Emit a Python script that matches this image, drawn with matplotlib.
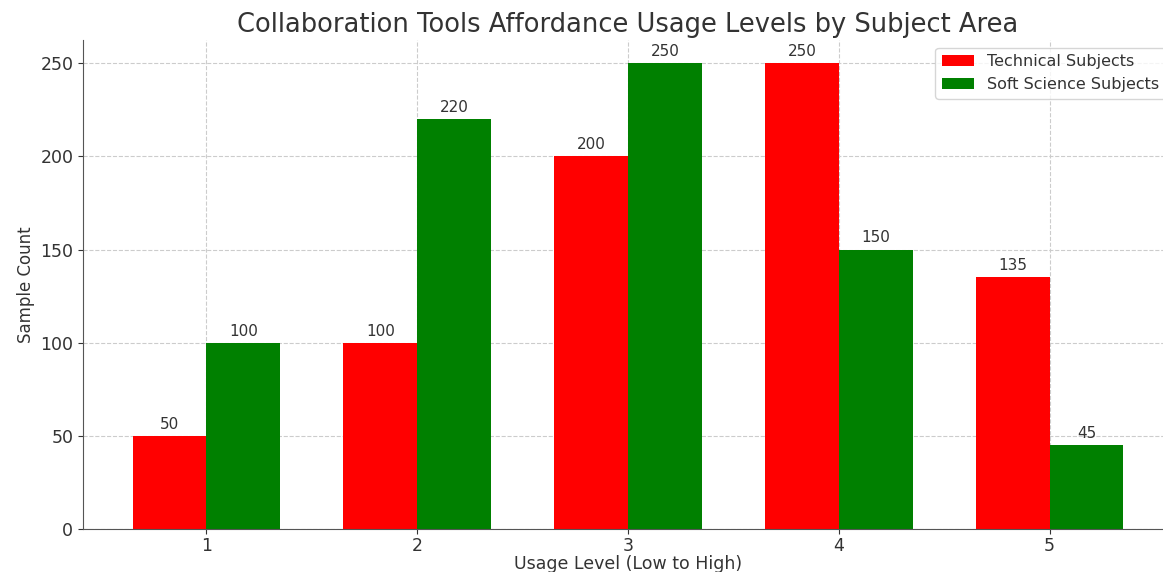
import matplotlib
matplotlib.use("Agg")
import matplotlib.pyplot as plt
import numpy as np

levels = [1, 2, 3, 4, 5]
technical = [50, 100, 200, 250, 135]
soft_science = [100, 220, 250, 150, 45]

plt.rcParams['text.color'] = '#333333'
plt.rcParams['axes.labelcolor'] = '#333333'
plt.rcParams['xtick.color'] = '#333333'
plt.rcParams['ytick.color'] = '#333333'

fig = plt.figure(figsize=(11.63, 5.72), dpi=100)
ax = fig.add_axes([0.0714, 0.0752, 0.9372, 0.855])

x = np.array(levels)
width = 0.35
b1 = ax.bar(x - width / 2, technical, width, color='red', label='Technical Subjects')
b2 = ax.bar(x + width / 2, soft_science, width, color='green', label='Soft Science Subjects')

for bars in (b1, b2):
    ax.bar_label(bars, padding=3, fontsize=11)

ax.set_xticks(x)
ax.set_xticklabels([str(v) for v in levels])
ax.tick_params(labelsize=12.5)
ax.tick_params(axis='x', pad=2)
ax.set_xlabel('Usage Level (Low to High)', fontsize=12.5, labelpad=0)
ax.set_ylabel('Sample Count', fontsize=12)
ax.set_title('Collaboration Tools Affordance Usage Levels by Subject Area', fontsize=18.5)

ax.set_axisbelow(True)
ax.grid(True, linestyle='--', color='#cccccc', linewidth=0.8)
for side in ('top', 'right'):
    ax.spines[side].set_visible(False)
for side in ('left', 'bottom'):
    ax.spines[side].set_color('#555555')

ax.legend(loc='upper right', fontsize=11.5)

fig.savefig('out.png', dpi=100)
